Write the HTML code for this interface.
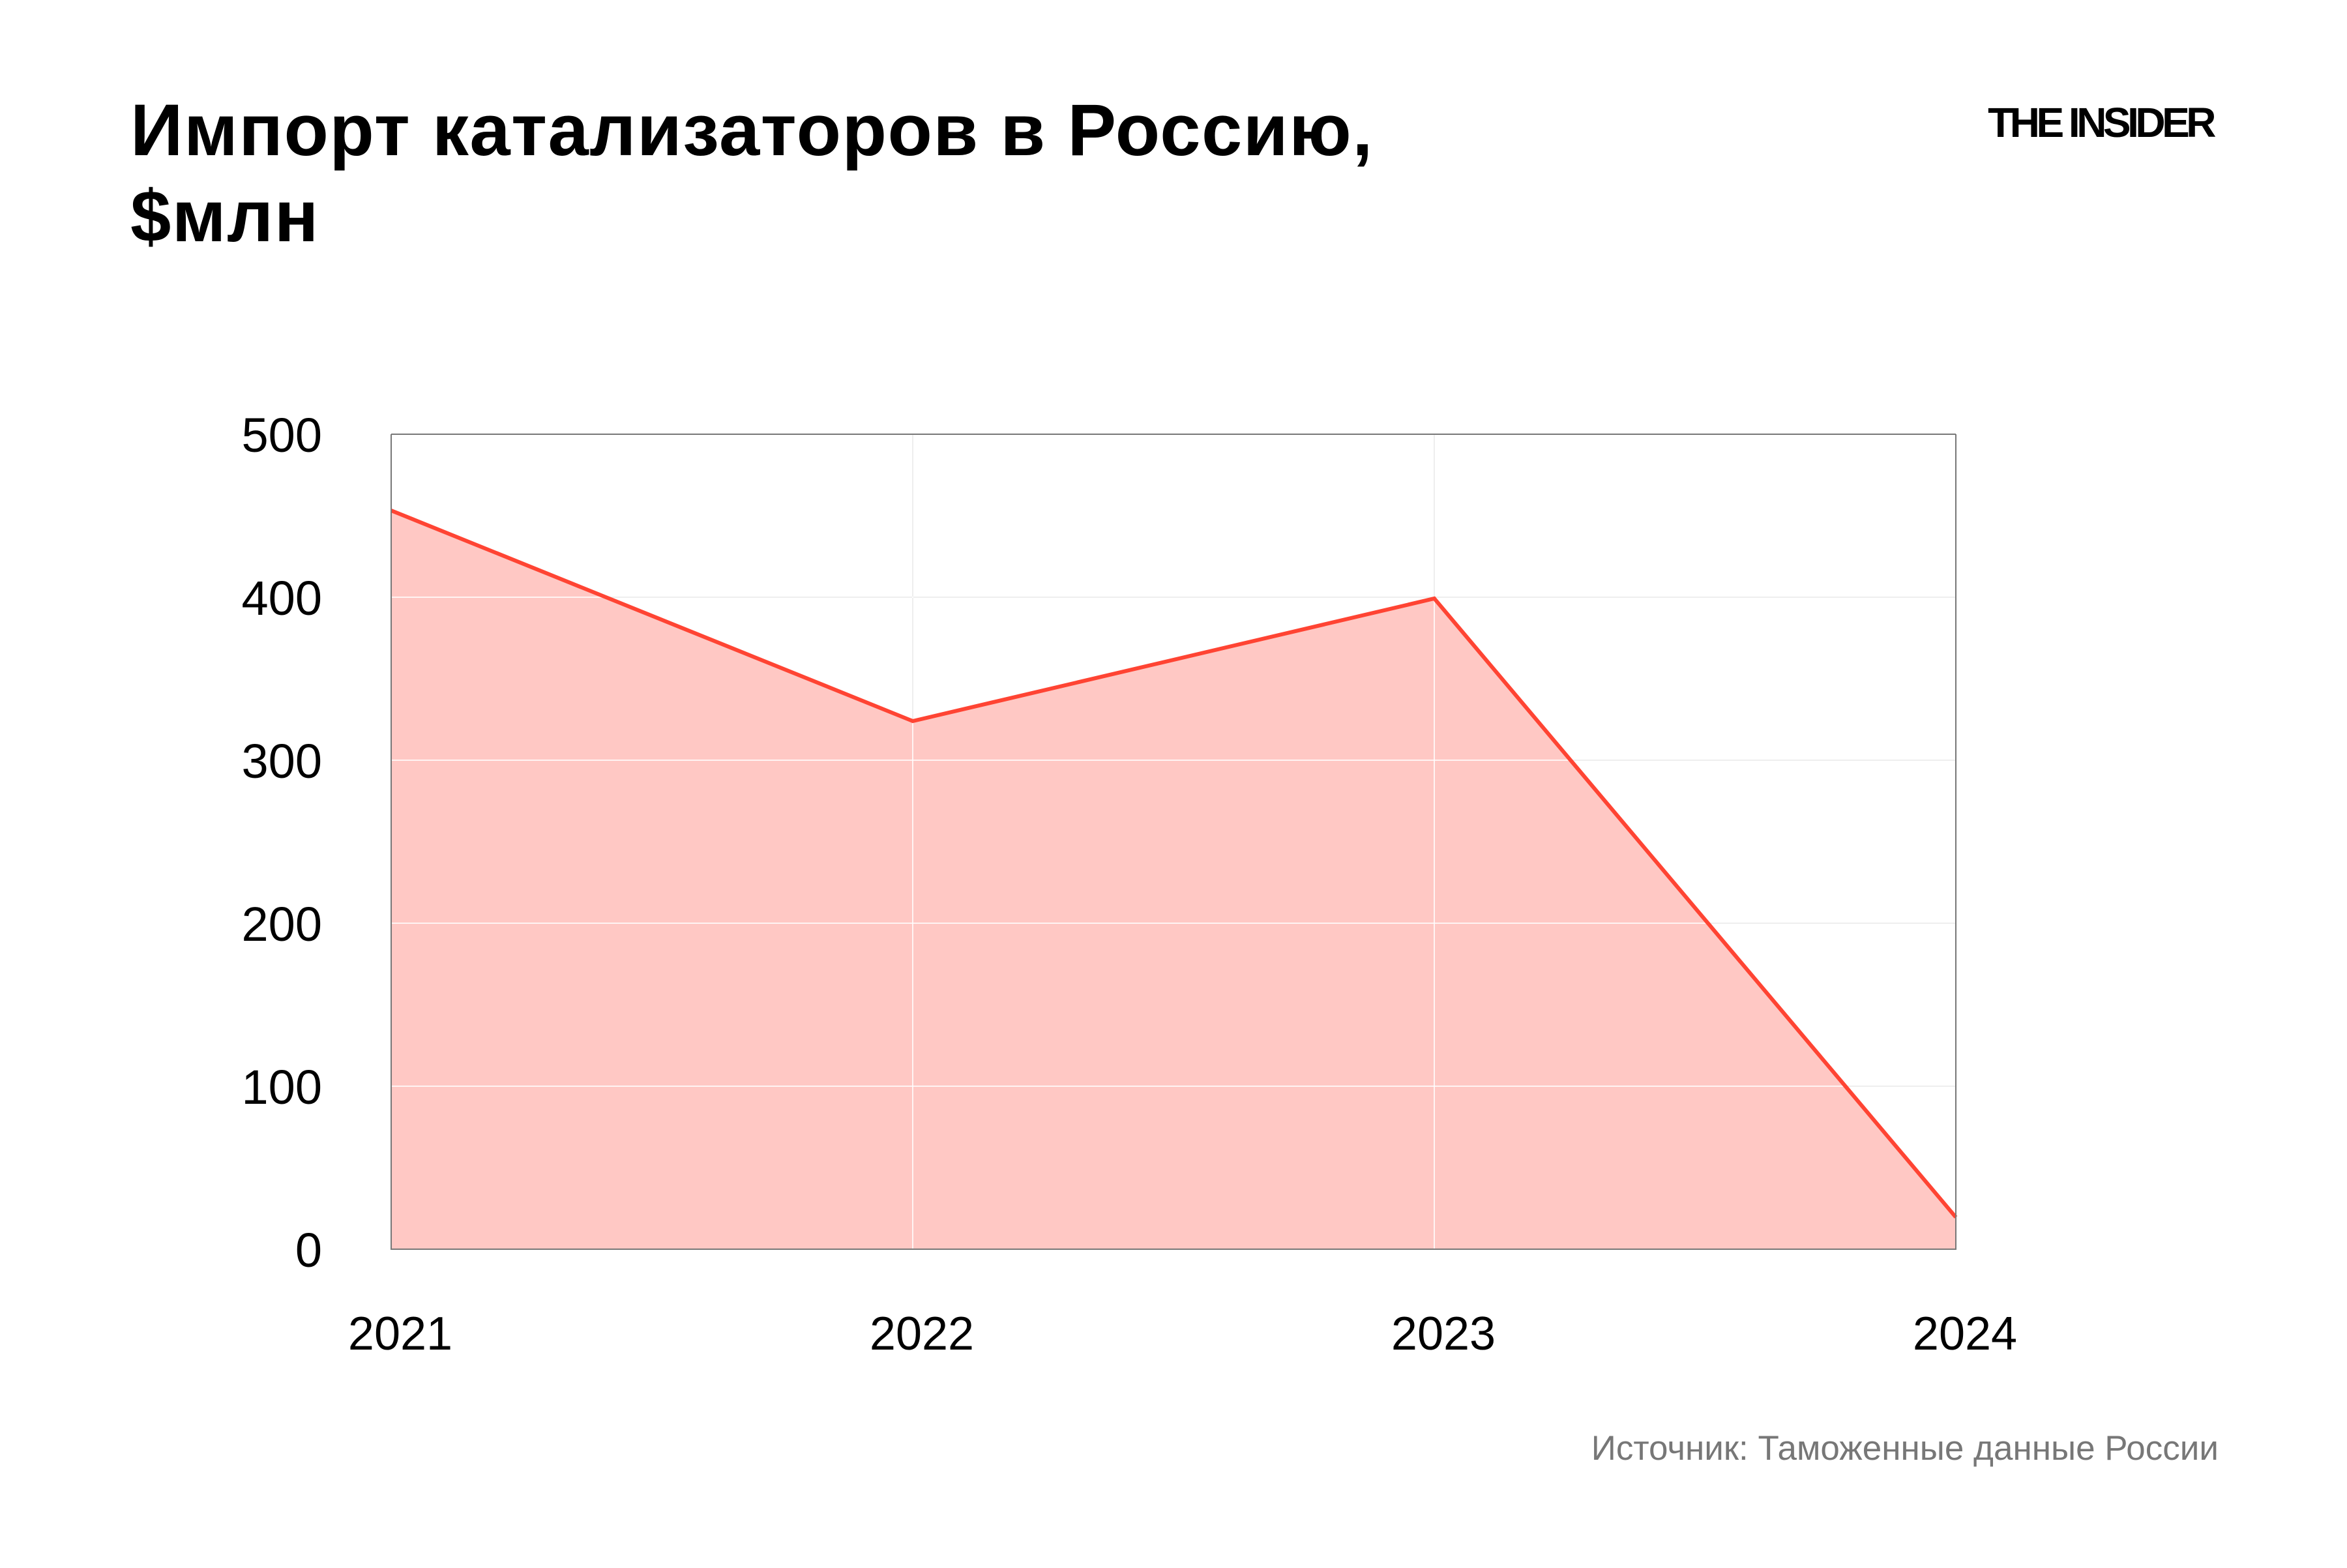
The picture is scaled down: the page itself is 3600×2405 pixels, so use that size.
<!DOCTYPE html>
<html><head><meta charset="utf-8"><style>
html,body{margin:0;padding:0;background:#fff;}
body{width:3600px;height:2400px;overflow:hidden;}
</style></head><body>
<svg width="3600" height="2400" xmlns="http://www.w3.org/2000/svg" font-family="Liberation Sans, DejaVu Sans, sans-serif">
<rect width="3600" height="2400" fill="#fff"/>
<text x="200" y="238" font-size="112" font-weight="bold" fill="#000" letter-spacing="1.5">Импорт катализаторов в Россию,</text>
<text x="200" y="370" font-size="112" font-weight="bold" fill="#000" letter-spacing="1.5">$млн</text>
<text x="3394" y="210" font-size="64" font-weight="bold" fill="#000" text-anchor="end" letter-spacing="-5.5">THE INSIDER</text>
<g stroke="#aaa" stroke-width="2" fill="none">
<line x1="600" y1="666" x2="3000" y2="666"/>
<line x1="600" y1="916" x2="3000" y2="916"/>
<line x1="600" y1="1166" x2="3000" y2="1166"/>
<line x1="600" y1="1416" x2="3000" y2="1416"/>
<line x1="600" y1="1666" x2="3000" y2="1666"/>
<line x1="1400" y1="666" x2="1400" y2="1916"/>
<line x1="2200" y1="666" x2="2200" y2="1916"/>
</g>
<polygon points="600,783 1400,1106 2200,918 3000,1867 3000,1916 600,1916" fill="#ffc8c4"/>
<g stroke="#fff" stroke-opacity="0.8" stroke-width="2">
<line x1="600" y1="916" x2="3000" y2="916"/>
<line x1="600" y1="1166" x2="3000" y2="1166"/>
<line x1="600" y1="1416" x2="3000" y2="1416"/>
<line x1="600" y1="1666" x2="3000" y2="1666"/>
<line x1="1400" y1="666" x2="1400" y2="1916"/>
<line x1="2200" y1="666" x2="2200" y2="1916"/>
</g>
<polyline points="600,783 1400,1106 2200,918 3000,1867" fill="none" stroke="#ff4433" stroke-width="6"/>
<g stroke="#777" stroke-width="2" fill="none">
<line x1="600" y1="666" x2="600" y2="1917"/>
<line x1="3000" y1="666" x2="3000" y2="1917"/>
<line x1="600" y1="1916" x2="3000" y2="1916"/>
<line x1="600" y1="666" x2="3000" y2="666"/>
</g>
<g font-size="74" fill="#000" text-anchor="end">
<text x="494" y="693">500</text>
<text x="494" y="943">400</text>
<text x="494" y="1193">300</text>
<text x="494" y="1443">200</text>
<text x="494" y="1693">100</text>
<text x="494" y="1943">0</text>
</g>
<g font-size="72" fill="#000" text-anchor="middle">
<text x="614" y="2070">2021</text>
<text x="1414" y="2070">2022</text>
<text x="2214" y="2070">2023</text>
<text x="3014" y="2070">2024</text>
</g>
<text x="3403" y="2239" font-size="53" fill="#777" text-anchor="end">Источник: Таможенные данные России</text>
</svg>
</body></html>
